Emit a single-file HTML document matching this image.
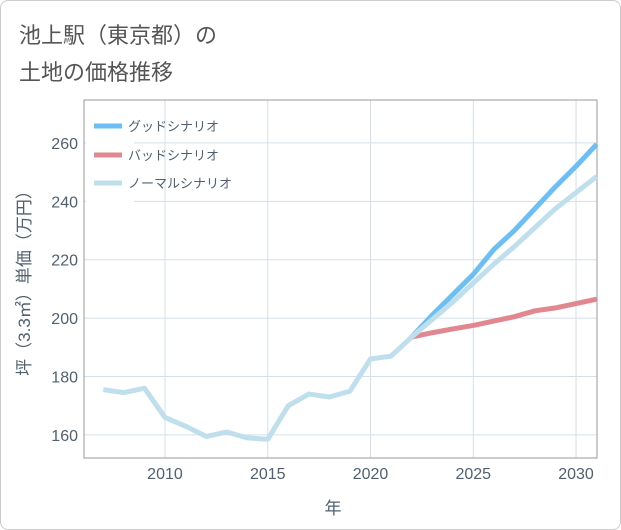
<!DOCTYPE html>
<html><head><meta charset="utf-8"><style>
body{margin:0;background:#fff;font-family:"Liberation Sans","Noto Sans CJK JP",sans-serif}
#wrap{position:relative;width:619px;height:528px;border:1px solid #ccc;border-radius:8px;overflow:hidden}
.t{position:absolute;left:18px;font-size:22px;color:#555;font-weight:normal}
</style></head><body>
<div id="wrap">
<div class="t" style="top:17px">池上駅（東京都）の</div>
<div class="t" style="top:54px">土地の価格推移</div>
<svg id="c" width="621" height="530" style="position:absolute;left:-1px;top:-1px"></svg>
</div>
<script>
const histYears=[2007,2008,2009,2010,2011,2012,2013,2014,2015,2016,2017,2018,2019,2020,2021,2022];
const histVals=[175.5,174.5,176,166,163,159.5,161,159,158.5,170,174,173,175,186,187,193.5];
const projYears=[2022,2023,2024,2025,2026,2027,2028,2029,2030,2031];
const goodVals=[193.5,201,208,215,223.5,230,237.5,245,252,259.5];
const badVals=[193.5,195,196.3,197.5,199,200.5,202.5,203.5,205,206.5];
const normVals=[193.5,199.5,205.5,212,218.5,224.5,231,237.5,243,248.5];
const xTicks=[2010,2015,2020,2025,2030];
const yTicks=[160,180,200,220,240,260];
const X0=84,X1=597,Y0=100,Y1=458;
const xmin=2006.06,xmax=2031.02,ymin=152.1,ymax=274.7;
const sx=v=>X0+(v-xmin)/(xmax-xmin)*(X1-X0);
const sy=v=>Y1-(v-ymin)/(ymax-ymin)*(Y1-Y0);
const svg=document.getElementById('c');const NS='http://www.w3.org/2000/svg';
function mk(t,a,p){const e=document.createElementNS(NS,t);for(const k in a)e.setAttribute(k,a[k]);(p||svg).appendChild(e);return e;}
const grid=mk('g',{});


xTicks.forEach(v=>{mk('line',{x1:sx(v),x2:sx(v),y1:Y0,y2:Y1,stroke:'#d3e0ea','stroke-width':1},grid);
const t=mk('text',{x:sx(v),y:Y1+21,'text-anchor':'middle','font-size':16,fill:'#506070'});t.textContent=v;

});
yTicks.forEach(v=>{mk('line',{x1:X0,x2:X1,y1:sy(v),y2:sy(v),stroke:'#d3e0ea','stroke-width':1},grid);
const t=mk('text',{x:X0-6,y:sy(v)+6,'text-anchor':'end','font-size':16,fill:'#506070'});t.textContent=v;

});
mk('rect',{x:X0,y:Y0,width:X1-X0,height:Y1-Y0,fill:'none',stroke:'#999','stroke-width':1});
function line(xs,ys,col,name){const p=mk('polyline',{points:xs.map((x,i)=>sx(x)+','+sy(ys[i])).join(' '),fill:'none',stroke:col,'stroke-width':5,'stroke-linejoin':'round'});

}
line(projYears,badVals,'#e0878f','bad-scenario-line');
line(projYears,goodVals,'#6bbff5','good-scenario-line');
line(projYears,normVals,'#bfdfec','normal-scenario-line');
line(histYears,histVals,'#bfdfec','historical-line');
const lg=mk('g',{});


mk('rect',{x:86,y:112,width:48,height:90,fill:'#fff'},lg);
[['グッドシナリオ','#6bbff5',126],['バッドシナリオ','#e0878f',155],['ノーマルシナリオ','#bfdfec',183]].forEach(([n,c,y])=>{
mk('line',{x1:94,x2:122,y1:y,y2:y,stroke:c,'stroke-width':5},lg);
const t=mk('text',{x:128,y:y+5,'font-size':13,fill:'#506070'},lg);t.textContent=n;

});
const xt=mk('text',{x:333,y:514,'text-anchor':'middle','font-size':17,fill:'#506070'});xt.textContent='年';


const yt=mk('text',{x:30,y:279,'text-anchor':'middle','font-size':17,fill:'#506070',transform:'rotate(-90 30 279)'});yt.textContent='坪（3.3㎡）単価（万円）';


</script>
</body></html>
